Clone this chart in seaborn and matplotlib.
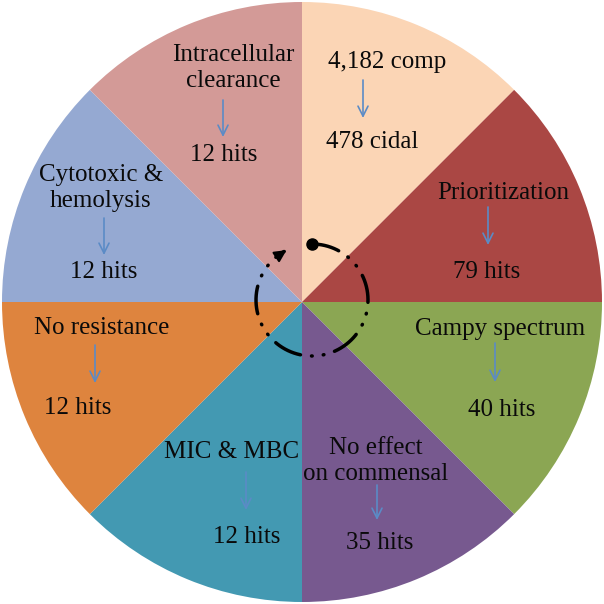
import numpy as np
import matplotlib
matplotlib.use("Agg")
import matplotlib.pyplot as plt
import seaborn as sns

# screening funnel, one equal slice per step (clockwise from the top)
steps = ["4,182 comp", "Prioritization", "Campy spectrum", "No effect\non commensal",
         "MIC & MBC", "No resistance", "Cytotoxic &\nhemolysis", "Intracellular\nclearance"]
hit_counts = [478, 79, 40, 35, 12, 12, 12, 12]
hit_units = ["cidal", "hits", "hits", "hits", "hits", "hits", "hits", "hits"]
share = [1, 1, 1, 1, 1, 1, 1, 1]
slice_colors = ["#FBD5B5", "#AA4744", "#8BA653", "#77598F",
                "#4399B2", "#DE843E", "#95A9D2", "#D39A97"]

# label layout in image pixels: step label centre, arrow x / y0 / y1, hits label centre
top_xy = [(387, 62), (503, 193), (500, 329), (376, 461),
          (232, 452), (102, 328), (101, 188), (233, 68)]
arrow_xyy = [(363, 80, 118), (488, 207, 245), (495, 343, 382), (377, 485, 520),
             (246, 472, 510), (95, 345, 383), (104, 218, 255), (223, 100, 137)]
hits_xy = [(372, 142), (487, 272), (502, 410), (380, 543),
           (247, 537), (78, 408), (104, 272), (224, 155)]

sns.set_theme(style="white")
plt.rcParams["font.family"] = ["Liberation Serif", "DejaVu Serif"]


def px(x, y):
    # image pixel -> data coords (pie centre 302,302, radius 300 px)
    return (x - 302) / 300, (302 - y) / 300


fig = plt.figure(figsize=(6.04, 6.04), dpi=100)
ax = fig.add_axes([0, 0, 1, 1])

ax.pie(share, colors=sns.color_palette(slice_colors), startangle=90,
       counterclock=False, radius=1, wedgeprops=dict(linewidth=0))

arrow_col = "#5B8BC6"
for i in range(len(steps)):
    ax.text(*px(*top_xy[i]), steps[i], ha="center", va="center",
            fontsize=18, color="#0a0a0a", linespacing=1.2)
    ax.text(*px(*hits_xy[i]), f"{hit_counts[i]} {hit_units[i]}", ha="center",
            va="center", fontsize=18, color="#0a0a0a")
    x, y0, y1 = arrow_xyy[i]
    ax.annotate("", xy=px(x, y1), xytext=px(x, y0),
                arrowprops=dict(arrowstyle="->,head_length=0.6,head_width=0.3",
                                color=arrow_col, lw=1.2, shrinkA=0, shrinkB=0))

# dash-dot-dot cycle arrow in the middle
cx, cy = px(312, 300)
r = 56 / 300
theta = np.radians(np.linspace(90, 90 - 330, 300))
ax.plot(cx + r * np.cos(theta), cy + r * np.sin(theta), color="black", lw=2.5,
        linestyle=(0, (8, 3.2, 0.2, 3.2, 0.2, 3.2)), dash_capstyle="round")
ax.plot([cx], [cy + r], marker="o", markersize=8, color="black")
t_end = np.radians(90 - 333)
t_pre = np.radians(90 - 320)
ax.annotate("", xy=(cx + r * np.cos(t_end), cy + r * np.sin(t_end)),
            xytext=(cx + r * np.cos(t_pre), cy + r * np.sin(t_pre)),
            arrowprops=dict(arrowstyle="-|>,head_length=0.6,head_width=0.3",
                            color="black", lw=1.5, shrinkA=0, shrinkB=0))

ax.set_xlim(-302 / 300, 302 / 300)
ax.set_ylim(-302 / 300, 302 / 300)
ax.set_aspect("equal")
ax.axis("off")

fig.savefig("out.png", dpi=100, facecolor="white")
